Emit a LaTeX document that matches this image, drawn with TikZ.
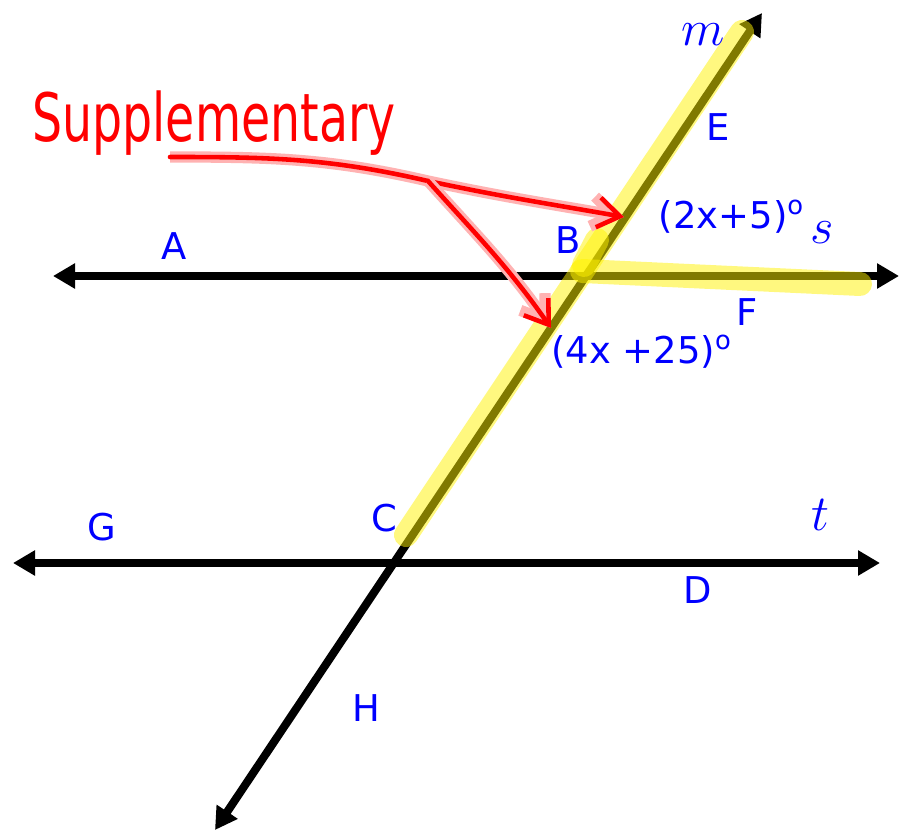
\documentclass[tikz,border=0pt]{standalone}
\usepackage{fontspec}
\newfontfamily\lblfont{DejaVu Sans}
\usepackage{tikz}
\usetikzlibrary{arrows.meta}

\begin{document}
\begin{tikzpicture}[
    ray/.style={line width=2.3pt, >={Triangle[length=0.22cm,width=0.24cm]}, <->},
    hl/.style={yellow, opacity=0.5, line width=0.24cm, line cap=round},
    redline/.style={red, line width=1.3pt, line cap=round, line join=round,
        preaction={draw=red!30, line width=3.2pt}},
    lbl/.style={text=blue, font=\lblfont\fontsize{10.5}{12}\selectfont, inner sep=1pt},
    var/.style={text=blue, font=\fontsize{15}{16}\selectfont, inner sep=1pt}
  ]
    % 0. 画布大小
    \useasboundingbox (0,0) rectangle (9.01,8.31);

    % 1. 两条平行线与截线 m
    \coordinate (A1) at (0.53,5.55);
    \coordinate (A2) at (8.99,5.55);
    \coordinate (G1) at (0.13,2.68);
    \coordinate (G2) at (8.80,2.68);
    \coordinate (H1) at (2.15,0.01);
    \coordinate (M1) at (7.62,8.18);
    \draw[ray] (A1) -- (A2);
    \draw[ray] (G1) -- (G2);
    \draw[ray] (H1) -- (M1);

    % 2. 黄色高亮 (半透明)
    \coordinate (Y1) at (4.06,2.96);
    \coordinate (Y2) at (7.42,7.99);
    \coordinate (Y3) at (5.82,5.60);
    \coordinate (Y4) at (8.60,5.47);
    \coordinate (Y5) at (5.97,5.91);
    \coordinate (Y6) at (5.84,5.66);
    \draw[hl] (Y1) -- (Y2);
    \draw[hl] (Y3) -- (Y4);
    \draw[hl] (Y5) -- (Y6);

    % 3. 点与直线的标注
    \node[lbl] (lA) at (1.74,5.85) {A};
    \node[lbl] (lB) at (5.68,5.91) {B};
    \node[lbl] (lC) at (3.84,3.13) {C};
    \node[lbl] (lD) at (6.98,2.41) {D};
    \node[lbl] (lE) at (7.18,7.04) {E};
    \node[lbl] (lF) at (7.47,5.19) {F};
    \node[lbl] (lG) at (1.02,3.04) {G};
    \node[lbl] (lH) at (3.66,1.23) {H};
    \node[var] (lm) at (7.03,7.96) {$m$};
    \node[var] (ls) at (8.22,5.98) {$s$};
    \node[var] (lt) at (8.20,3.16) {$t$};

    % 角的度数
    \node[lbl] (ang1) at (7.32,6.14) {(2x+5)\textsuperscript{o}};
    \node[lbl] (ang2) at (6.42,4.79) {(4x +25)\textsuperscript{o}};

    % 4. 红色手写注释与箭头
    \node[anchor=base, inner sep=0pt, text=red, font=\lblfont\fontsize{19}{20}\selectfont]
        (supp) at (2.14,6.89) {\scalebox{0.71}[1]{Supplementary}};
    \coordinate (u0) at (1.70,6.74);
    \coordinate (fork) at (4.28,6.50);
    \coordinate (tip1) at (6.24,6.14);
    \coordinate (tip2) at (5.51,5.03);
    \draw[redline, -{Straight Barb[length=0.22cm,width=0.3cm]}]
        (u0) to[out=0,in=167] (fork) to[out=-12,in=170] (tip1);
    \draw[redline, -{Straight Barb[length=0.22cm,width=0.3cm]}]
        (fork) to[out=-48,in=125] (tip2);

\end{tikzpicture}
\end{document}
